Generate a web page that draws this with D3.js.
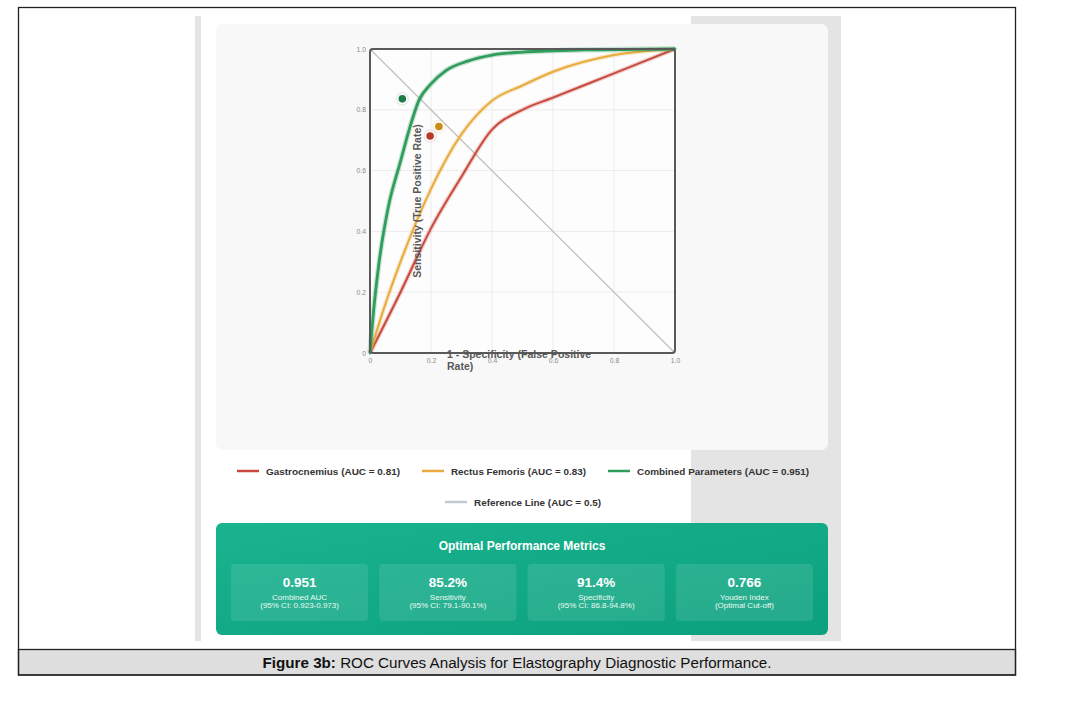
<!DOCTYPE html>
<html><head><meta charset="utf-8">
<script src="https://cdn.jsdelivr.net/npm/d3@7"></script>
<style>body{margin:0;background:#fff;}svg{display:block;font-family:"Liberation Sans",Arial,sans-serif;}</style>
</head><body><div id="chart"></div>
<script>
// ---- data ----
const xTicks = [0, 0.2, 0.4, 0.6, 0.8, 1.0];
const yTicks = [0, 0.2, 0.4, 0.6, 0.8, 1.0];
const gastroFpr = [0, 0.1, 0.2, 0.3, 0.4, 0.5, 0.6, 0.8, 1];
const gastroTpr = [0, 0.2, 0.41, 0.58, 0.735, 0.8, 0.84, 0.92, 1];
const rectusFpr = [0, 0.05, 0.1, 0.2, 0.3, 0.4, 0.5, 0.6, 0.8, 1];
const rectusTpr = [0, 0.16, 0.3, 0.54, 0.72, 0.83, 0.88, 0.925, 0.98, 1];
const combinedFpr = [0, 0.01, 0.03, 0.06, 0.1, 0.13, 0.16, 0.2, 0.25, 0.32, 0.4, 0.5, 0.7, 1];
const combinedTpr = [0, 0.12, 0.3, 0.48, 0.63, 0.74, 0.83, 0.885, 0.93, 0.96, 0.98, 0.99, 0.997, 1];
const refFpr = [0, 1];
const refTpr = [1, 0];
const seriesNames = ["Gastrocnemius (AUC = 0.81)", "Rectus Femoris (AUC = 0.83)", "Combined Parameters (AUC = 0.951)", "Reference Line (AUC = 0.5)"];
const optimalFpr = [0.197, 0.226, 0.106];
const optimalTpr = [0.714, 0.745, 0.836];
const metricValues = ["0.951", "85.2%", "91.4%", "0.766"];
const metricLabels = ["Combined AUC", "Sensitivity", "Specificity", "Youden Index"];
const metricSubs = ["(95% CI: 0.923-0.973)", "(95% CI: 79.1-90.1%)", "(95% CI: 86.8-94.8%)", "(Optimal Cut-off)"];

const colors = ["#c9493d", "#e9ab3c", "#2f9d5c", "#c4c4c4"];
const dotColors = ["#b63a2e", "#c98c16", "#1f7b46"];

const W = 1088, H = 720;
const svg = d3.select("#chart").append("svg").attr("width", W).attr("height", H);

// background panels
svg.append("rect").attr("x", 195).attr("y", 16).attr("width", 6).attr("height", 625).attr("fill", "#e4e4e4");
svg.append("rect").attr("x", 691).attr("y", 16).attr("width", 150).attr("height", 625).attr("fill", "#e4e4e4");
svg.append("rect").attr("x", 216).attr("y", 24).attr("width", 612).attr("height", 426).attr("rx", 7).attr("fill", "#f8f8f8");

// scales
const x = d3.scaleLinear().domain([0, 1]).range([370, 675]);
const y = d3.scaleLinear().domain([0, 1]).range([353, 49]);

// plot bg
svg.append("rect").attr("x", x(0)).attr("y", y(1)).attr("width", x(1) - x(0)).attr("height", y(0) - y(1)).attr("fill", "#fdfdfd");

// grid
const g = svg.append("g");
g.selectAll(".gx").data(xTicks).join("line").attr("x1", d => x(d)).attr("x2", d => x(d)).attr("y1", y(0)).attr("y2", y(1)).attr("stroke", "#ececec").attr("stroke-width", 1);
g.selectAll(".gy").data(yTicks).join("line").attr("y1", d => y(d)).attr("y2", d => y(d)).attr("x1", x(0)).attr("x2", x(1)).attr("stroke", "#ececec").attr("stroke-width", 1);

// axes
const fmt = d => d === 0 ? "0" : d3.format(".1f")(d);
const xAxis = svg.append("g").attr("transform", `translate(0,${y(0)})`).call(d3.axisBottom(x).tickValues(xTicks).tickFormat(fmt).tickSize(0).tickPadding(5));
const yAxis = svg.append("g").attr("transform", `translate(${x(0)},0)`).call(d3.axisLeft(y).tickValues(yTicks).tickFormat(fmt).tickSize(0).tickPadding(4));
[xAxis, yAxis].forEach(a => { a.select(".domain").remove(); a.selectAll("text").attr("fill", "#8a8a8a").attr("font-size", 6.8).attr("font-family", "Liberation Sans, Arial, sans-serif"); });

// reference line
const line = d3.line().x(d => x(d[0])).y(d => y(d[1])).curve(d3.curveMonotoneX);
svg.append("path").datum(d3.zip(refFpr, refTpr)).attr("d", d3.line().x(d => x(d[0])).y(d => y(d[1]))).attr("fill", "none").attr("stroke", "#bdbdbd").attr("stroke-width", 1.2);

const curves = [[gastroFpr, gastroTpr, 2], [rectusFpr, rectusTpr, 2], [combinedFpr, combinedTpr, 2.8]];
curves.forEach((c, i) => {
  svg.append("path").datum(d3.zip(c[0], c[1])).attr("d", line).attr("fill", "none").attr("stroke", colors[i]).attr("stroke-opacity", 0.25).attr("stroke-width", c[2] + 2.5);
  svg.append("path").datum(d3.zip(c[0], c[1])).attr("d", line).attr("fill", "none").attr("stroke", colors[i]).attr("stroke-width", c[2]).attr("stroke-linecap", "round");
});

// optimal points
optimalFpr.forEach((fx, i) => {
  svg.append("circle").attr("cx", x(fx)).attr("cy", y(optimalTpr[i])).attr("r", 6).attr("fill", "#ffffff").attr("opacity", 0.8).attr("stroke", dotColors[i]).attr("stroke-opacity", 0.15).attr("stroke-width", 1.5);
  svg.append("circle").attr("cx", x(fx)).attr("cy", y(optimalTpr[i])).attr("r", 3.8).attr("fill", dotColors[i]);
});

// plot border
svg.append("rect").attr("x", x(0)).attr("y", y(1)).attr("width", x(1) - x(0)).attr("height", y(0) - y(1)).attr("rx", 3).attr("fill", "none").attr("stroke", "#595959").attr("stroke-width", 2);

// axis titles
svg.append("text").attr("transform", `translate(421,${(y(0) + y(1)) / 2}) rotate(-90)`).attr("text-anchor", "middle").attr("font-size", 10.5).attr("font-weight", "bold").attr("fill", "#585858").text("Sensitivity (True Positive Rate)");
const xt = svg.append("text").attr("font-size", 10.5).attr("font-weight", "bold").attr("fill", "#585858");
xt.append("tspan").attr("x", 447).attr("y", 358).text("1 - Specificity (False Positive");
xt.append("tspan").attr("x", 447).attr("y", 370).text("Rate)");

// legend
const legendPos = [[237, 471], [422, 471], [608, 471], [445, 502]];
const legendW = [134, 135, 172, 127];
seriesNames.forEach((n, i) => {
  const [lx, ly] = legendPos[i];
  svg.append("line").attr("x1", lx).attr("x2", lx + 22).attr("y1", ly).attr("y2", ly).attr("stroke", i === 3 ? "#c3c9d0" : colors[i]).attr("stroke-width", 2.5);
  svg.append("text").attr("x", lx + 29).attr("y", ly + 3.5).attr("font-size", 9.5).attr("font-weight", "bold").attr("fill", "#333").attr("textLength", legendW[i]).attr("lengthAdjust", "spacingAndGlyphs").text(n);
});

// metrics panel
const defs = svg.append("defs");
const grad = defs.append("linearGradient").attr("id", "mg").attr("x1", "0").attr("x2", "1").attr("y1", "0").attr("y2", "1");
grad.append("stop").attr("offset", "0").attr("stop-color", "#19b48f");
grad.append("stop").attr("offset", "1").attr("stop-color", "#0ca07d");
svg.append("rect").attr("x", 216).attr("y", 523).attr("width", 612).attr("height", 112).attr("rx", 6).attr("fill", "url(#mg)");
svg.append("text").attr("x", 522).attr("y", 550).attr("text-anchor", "middle").attr("font-size", 12).attr("font-weight", "bold").attr("fill", "#ffffff").text("Optimal Performance Metrics");
const boxX = d3.scaleBand().domain(d3.range(metricValues.length)).range([231, 813]).paddingInner(0.075);
metricValues.forEach((v, i) => {
  const bx = boxX(i), bw = boxX.bandwidth();
  svg.append("rect").attr("x", bx).attr("y", 564).attr("width", bw).attr("height", 57).attr("rx", 4).attr("fill", "#ffffff").attr("fill-opacity", 0.1);
  svg.append("text").attr("x", bx + bw / 2).attr("y", 587).attr("text-anchor", "middle").attr("font-size", 13.5).attr("font-weight", "bold").attr("fill", "#fff").text(v);
  svg.append("text").attr("x", bx + bw / 2).attr("y", 599.5).attr("text-anchor", "middle").attr("font-size", 8).attr("fill", "#eafaf4").text(metricLabels[i]);
  svg.append("text").attr("x", bx + bw / 2).attr("y", 608).attr("text-anchor", "middle").attr("font-size", 8).attr("fill", "#eafaf4").text(metricSubs[i]);
});

// caption band & frame
svg.append("rect").attr("x", 18.5).attr("y", 649.5).attr("width", 997).attr("height", 25.5).attr("fill", "#dedede").attr("stroke", "#222").attr("stroke-width", 1.3);
svg.append("rect").attr("x", 18.5).attr("y", 7.5).attr("width", 997).attr("height", 667.5).attr("fill", "none").attr("stroke", "#222").attr("stroke-width", 1.3);
const cap = svg.append("text").attr("x", 517).attr("y", 667.5).attr("text-anchor", "middle").attr("font-size", 15.2).attr("fill", "#111");
cap.append("tspan").attr("font-weight", "bold").text("Figure 3b:");
cap.append("tspan").text(" ROC Curves Analysis for Elastography Diagnostic Performance.");
</script></body></html>
